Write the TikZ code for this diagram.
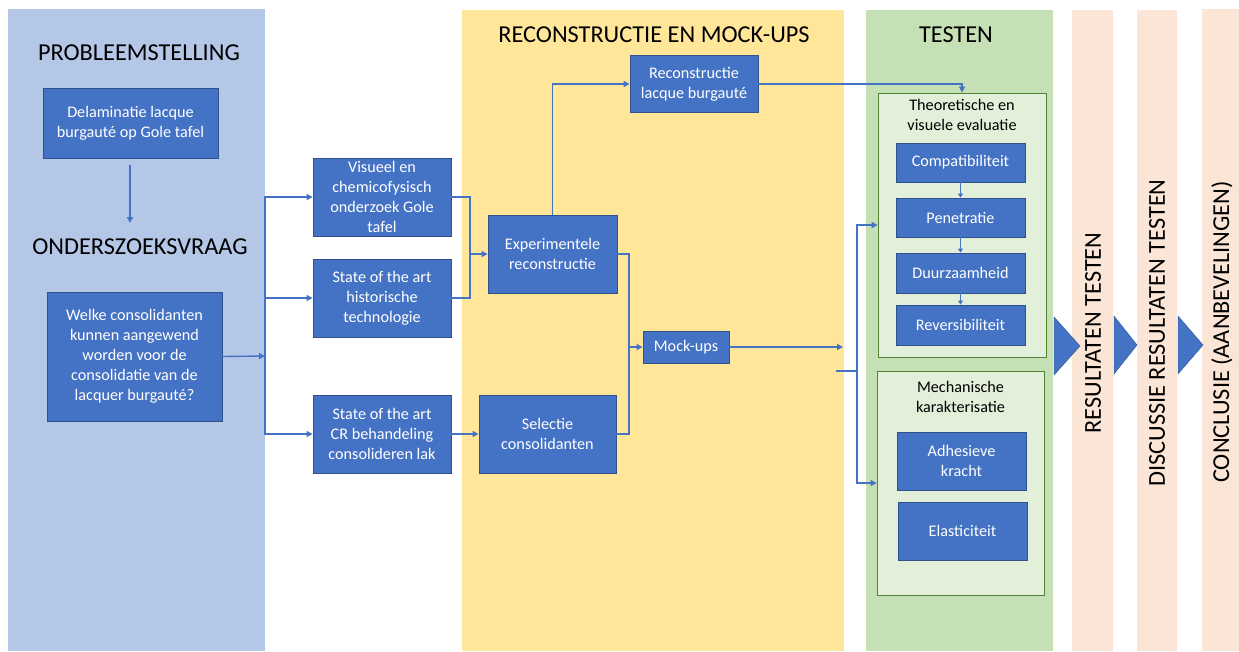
\documentclass[tikz,border=0pt]{standalone}
\usepackage{fontspec}
\setmainfont{Carlito}
\usetikzlibrary{arrows.meta}
\definecolor{pblue}{HTML}{B4C7E7}
\definecolor{pyellow}{HTML}{FFE699}
\definecolor{pgreen}{HTML}{C5E0B4}
\definecolor{ppeach}{HTML}{FBE5D6}
\definecolor{bfill}{HTML}{4472C4}
\definecolor{bline}{HTML}{2F528F}
\definecolor{gfill}{HTML}{E2EFD9}
\definecolor{gline}{HTML}{548235}
\tikzset{
  panel/.style={fill=#1, draw=none},
  bx/.style={draw=bline, fill=bfill, text=white, align=center, inner sep=0pt, line width=0.8pt, font=\fontsize{16.2}{20}\selectfont},
  grp/.style={draw=gline, fill=gfill, inner sep=0pt, line width=0.8pt},
  grptitle/.style={align=center, font=\fontsize{16.2}{20}\selectfont, text=black},
  ttl/.style={font=\fontsize{24.3}{28}\selectfont, text=black},
  conn/.style={draw=bfill, line width=1.4pt},
  arr/.style={conn, -{Triangle[length=6pt,width=6pt]}},
  sarr/.style={conn, line width=1pt, -{Triangle[length=4pt,width=5pt]}},
  chev/.style={fill=bfill, draw=bline, line width=0.4pt},
}
\begin{document}
\begin{tikzpicture}[x=1pt,y=-1pt]
\useasboundingbox (0,0) rectangle (1239,651);
\fill[white] (0,0) rectangle (1239,651);
% panels
\fill[pblue] (8,9) rectangle (265,651);
\fill[pyellow] (462,10) rectangle (844,651);
\fill[pgreen] (866,10) rectangle (1053,651);
\fill[ppeach] (1072,10) rectangle (1113,651);
\fill[ppeach] (1137,10) rectangle (1177,651);
\fill[ppeach] (1202,9) rectangle (1239,651);

% titles
\node[ttl] (tprob) at (139,53) {PROBLEEMSTELLING};
\node[ttl] (tond) at (140,247) {ONDERSZOEKSVRAAG};
\node[ttl] (trec) at (654,35) {RECONSTRUCTIE EN MOCK-UPS};
\node[ttl] (ttest) at (956,35) {TESTEN};

% left boxes
\node[bx, minimum width=175pt, minimum height=70pt] (d) at (130.5,123) {Delaminatie lacque\\burgaut\'e op Gole tafel};
\node[bx, minimum width=175pt, minimum height=129pt] (w) at (134.5,356.5) {Welke consolidanten\\kunnen aangewend\\worden voor de\\consolidatie van de\\lacquer burgaut\'e?};

% middle boxes
\node[bx, minimum width=138pt, minimum height=78pt] (va) at (382,197) {Visueel en\\chemicofysisch\\onderzoek Gole\\tafel};
\node[bx, minimum width=138pt, minimum height=78pt] (sb) at (382,298) {State of the art\\historische\\technologie};
\node[bx, minimum width=138pt, minimum height=78pt] (sc) at (382,434) {State of the art\\CR behandeling\\consolideren lak};

\node[bx, minimum width=129pt, minimum height=78pt] (ex) at (552.5,254) {Experimentele\\reconstructie};
\node[bx, minimum width=128pt, minimum height=57pt] (rc) at (694,84) {Reconstructie\\lacque burgaut\'e};
\node[bx, minimum width=137pt, minimum height=78pt] (se) at (547.5,434) {Selectie\\consolidanten};
\node[bx, minimum width=86pt, minimum height=32pt] (mu) at (686,347) {Mock-ups};

% test groups
\node[grp, minimum width=168pt, minimum height=264pt] (tg) at (962,225) {};
\node[grptitle, anchor=north] (tgt) at (962,96) {Theoretische en\\visuele evaluatie};
\node[bx, minimum width=129pt, minimum height=39pt] (comp) at (960.5,162.5) {Compatibiliteit};
\node[bx, minimum width=129pt, minimum height=39pt] (pen) at (960.5,217.5) {Penetratie};
\node[bx, minimum width=129pt, minimum height=40pt] (duu) at (960.5,273) {Duurzaamheid};
\node[bx, minimum width=129pt, minimum height=40pt] (rev) at (960.5,325) {Reversibiliteit};

\node[grp, minimum width=167pt, minimum height=224pt] (mg) at (960.5,483) {};
\node[grptitle, anchor=north] (mgt) at (960.5,378) {Mechanische\\karakterisatie};
\node[bx, minimum width=129pt, minimum height=58pt] (adh) at (961.5,461) {Adhesieve\\kracht};
\node[bx, minimum width=129pt, minimum height=58pt] (ela) at (962.5,531) {Elasticiteit};

% chevrons
\filldraw[chev] (1054,317) -- (1080,346) -- (1054,375) -- cycle;
\filldraw[chev] (1114,316) -- (1137,345) -- (1114,374) -- cycle;
\filldraw[chev] (1178,316) -- (1203,345) -- (1178,374) -- cycle;

% vertical labels
\node[ttl, rotate=90] (res) at (1093,333) {RESULTATEN TESTEN};
\node[ttl, rotate=90] (dis) at (1157,333) {DISCUSSIE RESULTATEN TESTEN};
\node[ttl, rotate=90] (con) at (1222,332) {CONCLUSIE (AANBEVELINGEN)};

% connectors
\coordinate (a1) at (130,165);
\coordinate (a2) at (130,223);
\draw[arr] (a1) -- (a2);

\coordinate (bus) at (265,356);
\draw[arr] (w.east) -- (bus);
\draw[arr] (bus) |- (va.west);
\draw[arr] (bus) |- (sb.west);
\draw[arr] (bus) |- (sc.west);

\coordinate (j1) at (470,254);
\draw[conn] (va.east) -| (j1);
\draw[conn] (sb.east) -| (j1);
\draw[arr] (j1) -- (ex.west);

\draw[arr] (ex.north) |- (rc.west);
\draw[arr] (rc.east) -| (tg.north);

\draw[arr] (sc.east) -- (se.west);

\coordinate (j2) at (629,347);
\draw[conn] (ex.east) -| (j2);
\draw[conn] (se.east) -| (j2);
\draw[arr] (j2) -- (mu.west);

\coordinate (m1) at (843,347);
\draw[arr] (mu.east) -- (m1);

\coordinate (m2) at (836,371);
\coordinate (j3) at (857,371);
\draw[conn] (m2) -- (j3);
\draw[arr] (j3) |- (tg.west);
\draw[arr] (j3) |- (mg.west);

\draw[sarr] (comp) -- (pen);
\draw[sarr] (pen) -- (duu);
\draw[sarr] (duu) -- (rev);
\end{tikzpicture}
\end{document}
